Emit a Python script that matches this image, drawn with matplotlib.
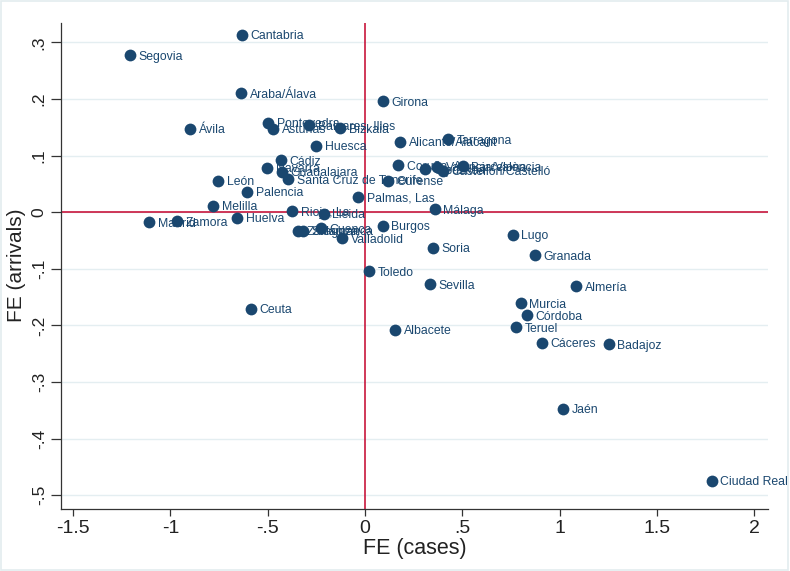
import matplotlib
matplotlib.use("Agg")
import matplotlib.pyplot as plt
from matplotlib import font_manager

names = ["Segovia", "Cantabria", "Araba/Álava", "Girona", "Ávila", "Pontevedra",
         "Asturias", "Baleares, Illes", "Bizkaia", "Huesca", "Alicante/Alacant",
         "Tarragona", "Cádiz", "Navarra", "Guadalajara", "Santa Cruz de Tenerife",
         "Coruña, A", "Gipuzkoa", "Valencia/València", "Castellón/Castelló",
         "Barcelona", "Ourense", "Palmas, Las", "Málaga", "León", "Palencia",
         "Melilla", "Madrid", "Zamora", "Huelva", "Rioja, La", "Lleida",
         "Zaragoza", "Salamanca", "Cuenca", "Valladolid", "Burgos", "Soria",
         "Lugo", "Granada", "Toledo", "Sevilla", "Almería", "Murcia", "Córdoba",
         "Teruel", "Ceuta", "Albacete", "Cáceres", "Badajoz", "Jaén", "Ciudad Real"]

fe_cases = [-1.206, -0.631, -0.636, 0.093, -0.898, -0.497,
            -0.472, -0.287, -0.127, -0.251, 0.181,
            0.427, -0.430, -0.502, -0.425, -0.394,
            0.171, 0.309, 0.371, 0.402,
            0.504, 0.119, -0.035, 0.360, -0.754, -0.605,
            -0.780, -1.109, -0.965, -0.656, -0.374, -0.210,
            -0.343, -0.318, -0.225, -0.117, 0.093, 0.350,
            0.761, 0.874, 0.022, 0.335, 1.085, 0.802, 0.833,
            0.777, -0.585, 0.155, 0.910, 1.254, 1.018, 1.782]

fe_arrivals = [0.277, 0.313, 0.210, 0.196, 0.147, 0.158,
               0.147, 0.154, 0.148, 0.117, 0.124,
               0.129, 0.092, 0.078, 0.071, 0.058,
               0.083, 0.076, 0.080, 0.073,
               0.081, 0.055, 0.027, 0.005, 0.055, 0.036,
               0.011, -0.018, -0.016, -0.010, 0.002, -0.003,
               -0.033, -0.033, -0.028, -0.046, -0.024, -0.063,
               -0.040, -0.076, -0.104, -0.127, -0.131, -0.161, -0.182,
               -0.203, -0.171, -0.208, -0.231, -0.233, -0.347, -0.474]

xticks = [-1.5, -1, -0.5, 0, 0.5, 1, 1.5, 2]
xticklabels = ["-1.5", "-1", "-.5", "0", ".5", "1", "1.5", "2"]
yticks = [0.3, 0.2, 0.1, 0, -0.1, -0.2, -0.3, -0.4, -0.5]
yticklabels = [".3", ".2", ".1", "0", "-.1", "-.2", "-.3", "-.4", "-.5"]

available = {f.name for f in font_manager.fontManager.ttflist}
narrow = "Liberation Sans Narrow" if "Liberation Sans Narrow" in available else "Liberation Sans"
regular = "Liberation Sans"

navy = "#1a476f"
red = "#c8163c"

fig = plt.figure(figsize=(7.9, 5.71), dpi=100)
fig.patch.set_facecolor("white")
ax = fig.add_axes([0.0768, 0.1091, 0.9722 - 0.0768, 0.9602 - 0.1091])

ax.set_xlim(-1.564, 2.071)
ax.set_ylim(-0.5237, 0.3345)

for y in yticks:
    ax.axhline(y, color="#e4eef1", lw=1.0, zorder=0)
ax.axvline(0, color=red, lw=1.2, zorder=1)
ax.axhline(0, color=red, lw=1.2, zorder=1)

ax.scatter(fe_cases, fe_arrivals, s=72, color=navy, zorder=3, linewidths=0)
for n, x, y in zip(names, fe_cases, fe_arrivals):
    ax.annotate(n, (x, y), xytext=(6, 0), textcoords="offset points",
                ha="left", va="center_baseline", fontsize=8.8, color=navy,
                family=regular, zorder=4, annotation_clip=False)

for s in ["top", "right"]:
    ax.spines[s].set_visible(False)
for s in ["left", "bottom"]:
    ax.spines[s].set_color("#333333")
    ax.spines[s].set_linewidth(0.9)

ax.set_xticks(xticks)
ax.set_xticklabels(xticklabels, family=narrow, fontsize=14, color="#222222")
ax.set_yticks(yticks)
ax.set_yticklabels(yticklabels, family=regular, fontsize=12.5, color="#222222",
                   rotation=90, va="center")
ax.tick_params(axis="x", length=5, width=0.9, color="#333333", pad=3)
ax.tick_params(axis="y", length=7, width=0.9, color="#333333", pad=3)

ax.set_xlabel("FE (cases)", family=narrow, fontsize=15.5, color="#222222", labelpad=1)
ax.set_ylabel("FE (arrivals)", family=regular, fontsize=15, color="#222222", labelpad=4)

border = plt.Rectangle((0.001, 0.001), 0.997, 0.997, transform=fig.transFigure,
                       fill=False, edgecolor="#e3ecef", lw=1.2)
fig.patches.append(border)

fig.savefig("out.png", dpi=100, facecolor="white")
